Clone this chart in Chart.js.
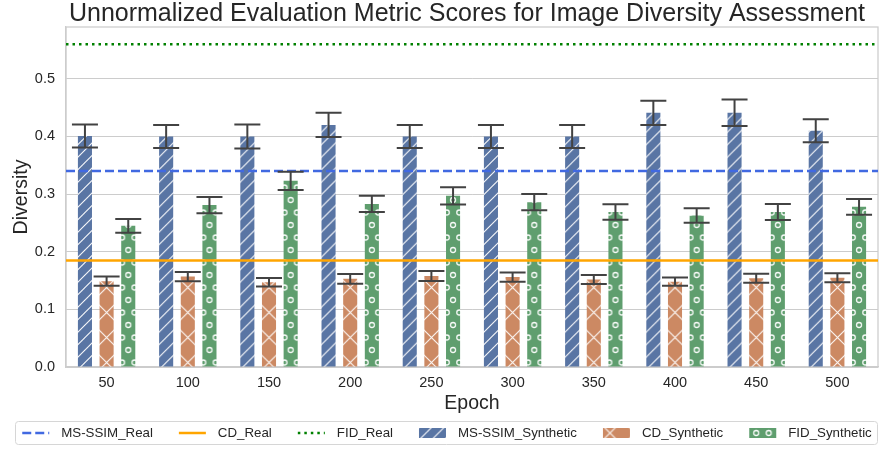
<!DOCTYPE html>
<html>
<head>
<meta charset="utf-8">
<script src="https://cdn.jsdelivr.net/npm/chart.js@4.4.1/dist/chart.umd.min.js"></script>
<style>
  html, body { margin: 0; padding: 0; background: #ffffff; }
  #wrap { width: 879px; height: 449px; position: relative; }
</style>
</head>
<body>
<div id="wrap"><canvas id="c" width="879" height="449"></canvas></div>
<script>
// ---- data ----
const epochs = ['50', '100', '150', '200', '250', '300', '350', '400', '450', '500'];
const msssimSynthetic = [0.401, 0.400, 0.400, 0.420, 0.400, 0.400, 0.400, 0.441, 0.441, 0.410];
const msssimErr       = [0.020, 0.020, 0.021, 0.021, 0.020, 0.020, 0.020, 0.021, 0.023, 0.020];
const cdSynthetic     = [0.149, 0.157, 0.147, 0.153, 0.158, 0.156, 0.152, 0.148, 0.154, 0.155];
const cdErr           = [0.008, 0.008, 0.0075, 0.0084, 0.0087, 0.008, 0.0078, 0.0072, 0.0078, 0.0078];
const fidSynthetic    = [0.245, 0.281, 0.323, 0.283, 0.297, 0.286, 0.269, 0.263, 0.269, 0.278];
const fidErr          = [0.012, 0.014, 0.016, 0.014, 0.015, 0.014, 0.0136, 0.0125, 0.014, 0.0136];
const realNames  = ['MS-SSIM_Real', 'CD_Real', 'FID_Real'];
const realValues = [0.34, 0.185, 0.56];
const yTicks = [0.0, 0.1, 0.2, 0.3, 0.4, 0.5];

const titleText = 'Unnormalized Evaluation Metric Scores for Image Diversity Assessment';
const FONT = '"Liberation Sans", Arial, sans-serif';
const TEXT = '#262626';
const BLUE = '#5975a4', ORANGE = '#cc8963', GREEN = '#5f9e6e';
const realStyles = [
  {color: '#4169e1', dash: [9, 4]},
  {color: '#ffa500', dash: []},
  {color: '#008000', dash: [2.5, 4]}
];
const CAT_PCT = 0.8, BAR_PCT = 0.65;

// ---- hatch tiles (25x25 unit) ----
function makeTile(color, type) {
  const c = document.createElement('canvas');
  const s = 25;
  c.width = s; c.height = s;
  const g = c.getContext('2d');
  g.fillStyle = color; g.fillRect(0, 0, s, s);
  g.strokeStyle = 'rgba(255,255,255,0.95)';
  g.lineWidth = 1.1;
  g.beginPath();
  if (type === '/') {
    for (let k = -1; k <= 4; k++) {
      const cc = k * 12.5;
      g.moveTo(cc + 5, -5); g.lineTo(cc - 30, 30);
    }
  } else if (type === 'x') {
    for (let k = -1; k <= 2; k++) {
      const cc = k * 25;
      g.moveTo(cc + 30, -5); g.lineTo(cc - 5, 30);
      g.moveTo(cc - 5, -5); g.lineTo(cc + 30, 30);
    }
  }
  g.stroke();
  if (type === 'o') {
    const r = 2.5;
    g.lineWidth = 1.3;
    const pts = [[0,0],[12.5,0],[25,0],[6.25,12.5],[18.75,12.5],[0,25],[12.5,25],[25,25]];
    pts.forEach(p => { g.beginPath(); g.arc(p[0], p[1], r, 0, Math.PI*2); g.stroke(); });
  }
  return c;
}
const tiles = {
  ms: makeTile(BLUE, '/'),
  cd: makeTile(ORANGE, 'x'),
  fid: makeTile(GREEN, 'o')
};
const tileShift = {ms: 0, cd: -12.5, fid: 0};
const helperCtx = document.createElement('canvas').getContext('2d');
function patternAt(key, cx, cy) {
  const p = helperCtx.createPattern(tiles[key], 'repeat');
  if (p.setTransform) p.setTransform(new DOMMatrix().translate(cx + tileShift[key], cy || 0));
  return p;
}
function barFill(key, fallback) {
  return (ctx) => {
    const chart = ctx.chart;
    const xs = chart.scales && chart.scales.x;
    if (!xs || ctx.type !== 'data') return fallback;
    const n = chart.data.labels.length;
    const slot = (xs.width / n) * CAT_PCT / 3;
    const cx = xs.getPixelForValue(ctx.dataIndex) + (ctx.datasetIndex - 1) * slot;
    return patternAt(key, cx, 0);
  };
}

// ---- plugins ----
const realLinesPlugin = {
  id: 'realLines',
  afterDatasetsDraw(chart) {
    const {ctx, chartArea: a} = chart;
    const y = chart.scales.y;
    ctx.save();
    ctx.beginPath();
    ctx.rect(a.left, a.top, a.right - a.left, a.bottom - a.top);
    ctx.clip();
    realValues.forEach((v, i) => {
      const py = y.getPixelForValue(v);
      ctx.strokeStyle = realStyles[i].color;
      ctx.lineWidth = 2.5;
      ctx.setLineDash(realStyles[i].dash);
      ctx.beginPath();
      ctx.moveTo(a.left, py); ctx.lineTo(a.right, py);
      ctx.stroke();
    });
    ctx.restore();
  }
};

const errBars = [msssimErr, cdErr, fidErr];
const errorBarPlugin = {
  id: 'errorBars',
  afterDatasetsDraw(chart) {
    const ctx = chart.ctx, y = chart.scales.y;
    ctx.save();
    ctx.strokeStyle = '#424242';
    ctx.lineWidth = 2;
    for (let d = 0; d < 3; d++) {
      const meta = chart.getDatasetMeta(d);
      const vals = chart.data.datasets[d].data;
      meta.data.forEach((bar, j) => {
        const top = y.getPixelForValue(vals[j] + errBars[d][j]);
        const bot = y.getPixelForValue(vals[j] - errBars[d][j]);
        const x = bar.x, hw = 13;
        ctx.beginPath();
        ctx.moveTo(x, top); ctx.lineTo(x, bot);
        ctx.moveTo(x - hw, top); ctx.lineTo(x + hw, top);
        ctx.moveTo(x - hw, bot); ctx.lineTo(x + hw, bot);
        ctx.stroke();
      });
    }
    ctx.restore();
  }
};

const framePlugin = {
  id: 'frame',
  beforeDatasetsDraw(chart) {
    const {ctx, chartArea: a} = chart;
    ctx.save();
    ctx.strokeStyle = '#cccccc';
    ctx.lineWidth = 1.25;
    ctx.strokeRect(a.left, a.top, a.right - a.left, a.bottom - a.top);
    ctx.restore();
  },
  afterDraw(chart) {
    const {ctx, chartArea: a} = chart;
    ctx.save();
    ctx.fillStyle = TEXT;
    ctx.font = '25px ' + FONT;
    ctx.textAlign = 'center';
    ctx.textBaseline = 'middle';
    ctx.fillText(titleText, (a.left + a.right) / 2 - 5, 14);
    ctx.restore();
  }
};

const legendItems = [
  {label: realNames[0], kind: 'line', style: realStyles[0]},
  {label: realNames[1], kind: 'line', style: realStyles[1]},
  {label: realNames[2], kind: 'line', style: realStyles[2]},
  {label: 'MS-SSIM_Synthetic', kind: 'patch', key: 'ms'},
  {label: 'CD_Synthetic', kind: 'patch', key: 'cd'},
  {label: 'FID_Synthetic', kind: 'patch', key: 'fid'}
];
const legendPlugin = {
  id: 'customLegend',
  afterDraw(chart) {
    const ctx = chart.ctx;
    ctx.save();
    const boxL = 15, boxR = 877, boxT = 421, boxB = 444;
    ctx.strokeStyle = '#d6d6d6';
    ctx.lineWidth = 1;
    ctx.beginPath();
    if (ctx.roundRect) ctx.roundRect(boxL + 0.5, boxT + 0.5, boxR - boxL, boxB - boxT, 3);
    else ctx.rect(boxL + 0.5, boxT + 0.5, boxR - boxL, boxB - boxT);
    ctx.stroke();
    ctx.font = '13.3px ' + FONT;
    const mw = 27, gap = 12, spacing = 26;
    let total = 0;
    legendItems.forEach((it, i) => {
      it.tw = ctx.measureText(it.label).width;
      total += mw + gap + it.tw + (i ? spacing : 0);
    });
    let x = (20 + 874) / 2 - total / 2;
    const cy = 433;
    legendItems.forEach(it => {
      if (it.kind === 'line') {
        ctx.strokeStyle = it.style.color;
        ctx.lineWidth = 2.5;
        ctx.setLineDash(it.style.dash);
        ctx.beginPath();
        ctx.moveTo(x, cy); ctx.lineTo(x + mw, cy);
        ctx.stroke();
        ctx.setLineDash([]);
      } else {
        ctx.fillStyle = patternAt(it.key, x + 7, cy - 12.5 + (it.key === 'fid' ? 12.5 : 0));
        ctx.fillRect(x, cy - 5, mw, 10);
      }
      ctx.fillStyle = TEXT;
      ctx.textAlign = 'left';
      ctx.textBaseline = 'middle';
      ctx.fillText(it.label, x + mw + gap, cy);
      x += mw + gap + it.tw + spacing;
    });
    ctx.restore();
  }
};

new Chart(document.getElementById('c'), {
  type: 'bar',
  data: {
    labels: epochs,
    datasets: [
      {label: 'MS-SSIM_Synthetic', data: msssimSynthetic, backgroundColor: barFill('ms', BLUE)},
      {label: 'CD_Synthetic', data: cdSynthetic, backgroundColor: barFill('cd', ORANGE)},
      {label: 'FID_Synthetic', data: fidSynthetic, backgroundColor: barFill('fid', GREEN)}
    ]
  },
  options: {
    responsive: false,
    animation: false,
    devicePixelRatio: 1,
    categoryPercentage: CAT_PCT,
    barPercentage: BAR_PCT,
    layout: {padding: {left: 0, top: 27, right: 1, bottom: 34}},
    plugins: {
      legend: {display: false},
      title: {display: false},
      tooltip: {enabled: false}
    },
    scales: {
      x: {
        type: 'category',
        offset: true,
        grid: {display: false, drawTicks: false},
        border: {display: true, color: '#cccccc', width: 1.25},
        ticks: {color: TEXT, font: {size: 14.5, family: FONT}, padding: 7},
        title: {display: true, text: 'Epoch', color: TEXT, font: {size: 19.5, family: FONT}, padding: {top: 0, bottom: 0}},
        afterFit(s) { s.height = 48; }
      },
      y: {
        type: 'linear',
        min: 0, max: 0.59,
        grid: {color: '#cccccc', lineWidth: 1, drawTicks: false},
        border: {display: true, color: '#cccccc', width: 1.25},
        afterBuildTicks(s) { s.ticks = yTicks.map(v => ({value: v})); },
        ticks: {
          color: TEXT, font: {size: 14.5, family: FONT}, padding: 11,
          callback: v => Number(v).toFixed(1)
        },
        title: {display: true, text: 'Diversity', color: TEXT, font: {size: 19.5, family: FONT}, padding: {top: 9.5, bottom: 0}},
        afterFit(s) { s.width = 66; }
      }
    }
  },
  plugins: [framePlugin, realLinesPlugin, errorBarPlugin, legendPlugin]
});
</script>
</body>
</html>
